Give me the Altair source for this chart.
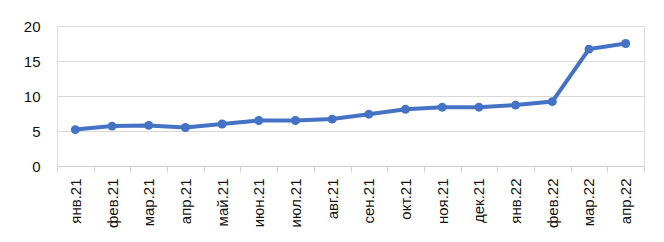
import altair as alt
import pandas as pd

months = ["янв.21", "фев.21", "мар.21", "апр.21", "май.21", "июн.21", "июл.21",
          "авг.21", "сен.21", "окт.21", "ноя.21", "дек.21", "янв.22", "фев.22",
          "мар.22", "апр.22"]
values = [5.2, 5.7, 5.8, 5.5, 6.0, 6.5, 6.5, 6.7, 7.4, 8.1, 8.4, 8.4, 8.7, 9.2, 16.7, 17.5]

df = pd.DataFrame({"month": months, "value": values})

color = "#4472C4"
font = "Liberation Sans"
text_color = "#111111"

x = alt.X("month:N", sort=months, title=None,
          scale=alt.Scale(paddingInner=0, paddingOuter=0),
          axis=alt.Axis(labelAngle=-90, labelFontSize=15, labelFont=font,
                        labelColor=text_color, labelPadding=6, tickBand="extent",
                        tickColor="#d0d0d0", tickSize=6, domainColor="#d0d0d0",
                        domainWidth=1, grid=False, labelAlign="right",
                        labelBaseline="middle"))
y = alt.Y("value:Q", title=None,
          scale=alt.Scale(domain=[0, 20], nice=False),
          axis=alt.Axis(values=[0, 5, 10, 15, 20], labelFontSize=15, labelFont=font,
                        labelColor=text_color, labelPadding=17, ticks=False,
                        domain=False, gridColor="#d9d9d9", gridWidth=1))

base = alt.Chart(df)
line = base.mark_line(color=color, strokeWidth=4).encode(x=x, y=y)
pts = base.mark_circle(color=color, size=80, opacity=1).encode(x=x, y=y)

chart = (line + pts).properties(
    width=587, height=140,
    autosize=alt.AutoSizeParams(type="none"),
    padding={"left": 49, "top": 18, "right": 12, "bottom": 68},
).configure_view(stroke=None).configure(background="white")

chart.save("out.html", embed_options={"renderer": "svg", "actions": False})
